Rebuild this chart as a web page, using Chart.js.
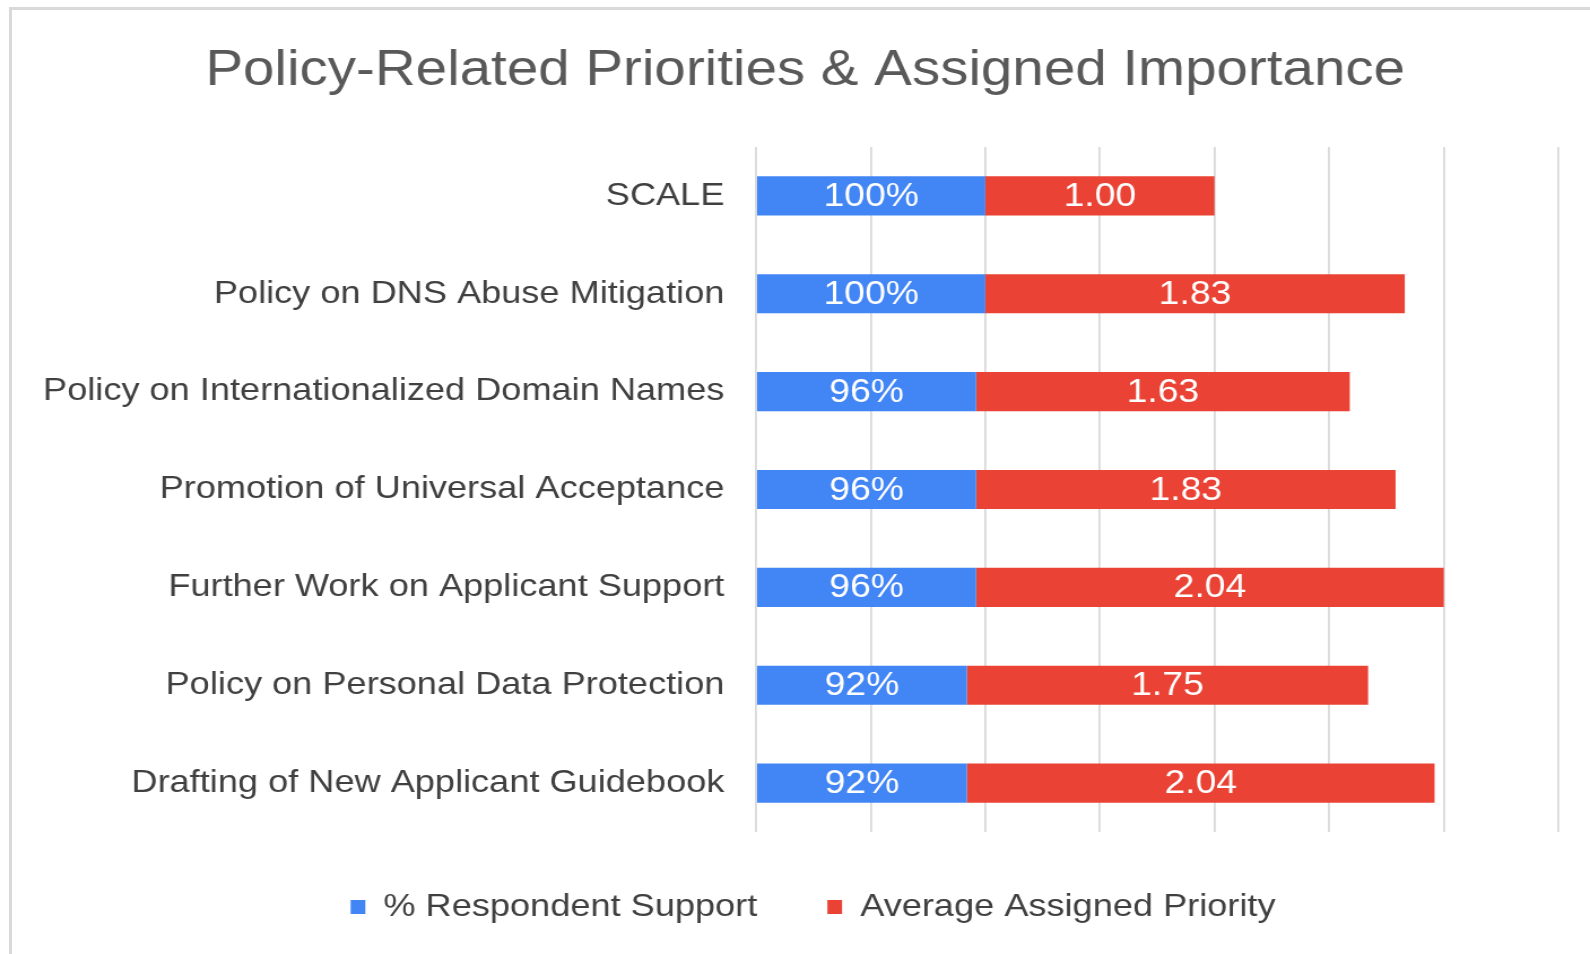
<!DOCTYPE html>
<html lang="en">
<head>
<meta charset="utf-8"/>
<title>Policy-Related Priorities &amp; Assigned Importance</title>
<script src="https://cdn.jsdelivr.net/npm/chart.js"></script>
<style>
    html, body { margin: 0; padding: 0; background: #fff; }
    .frame { position: absolute; left: 9px; top: 7px; width: 1581px; height: 947px;
             border-left: 3px solid #d9d9d9; border-top: 3px solid #d9d9d9; box-sizing: border-box; }
    canvas { position: absolute; left: 0; top: 0; }
  </style>
</head>
<body>
<div class="frame"></div>
<!-- the source picture is stretched sideways, so the canvas is drawn narrower and widened by css -->
<canvas id="policyChart" width="1407" height="954" style="width:1590px;height:954px"></canvas>
<script>
    // categories, top to bottom
    const categories = [
      'SCALE',
      'Policy on DNS Abuse Mitigation',
      'Policy on Internationalized Domain Names',
      'Promotion of Universal Acceptance',
      'Further Work on Applicant Support',
      'Policy on Personal Data Protection',
      'Drafting of New Applicant Guidebook'
    ];
    // share of respondents supporting (1 = 100%)
    const respondentSupport = [1.00, 1.00, 0.96, 0.96, 0.96, 0.92, 0.92];
    // average priority assigned
    const averagePriority = [1.00, 1.83, 1.63, 1.83, 2.04, 1.75, 2.04];
    const seriesNames = ['% Respondent Support', 'Average Assigned Priority'];

    const FONT = '"Liberation Sans", Arial, sans-serif';

    // white value labels inside each bar segment
    const barLabels = {
      id: 'barLabels',
      afterDatasetsDraw(chart) {
        const ctx = chart.ctx;
        ctx.save();
        ctx.fillStyle = '#ffffff';
        ctx.font = '33px ' + FONT;
        ctx.textAlign = 'center';
        ctx.textBaseline = 'middle';
        chart.data.datasets.forEach((ds, i) => {
          chart.getDatasetMeta(i).data.forEach((bar, j) => {
            const v = ds.data[j];
            const txt = i === 0 ? Math.round(v * 100) + '%' : v.toFixed(2);
            ctx.fillText(txt, (bar.x + bar.base) / 2, bar.y + 1);
          });
        });
        ctx.restore();
      }
    };

    // title and legend sit a bit right of centre in the original
    const nudge = {
      id: 'nudge',
      afterLayout(chart) {
        if (chart.titleBlock) { chart.titleBlock.left += 23; chart.titleBlock.right += 23; }
        if (chart.legend) {
          chart.legend.left += 30; chart.legend.right += 30;
          chart.legend.top -= 3; chart.legend.bottom -= 3;
        }
      }
    };

    new Chart(document.getElementById('policyChart'), {
      type: 'bar',
      data: {
        labels: categories,
        datasets: [
          { label: seriesNames[0], data: respondentSupport, backgroundColor: '#4285f4' },
          { label: seriesNames[1], data: averagePriority, backgroundColor: '#ea4335' }
        ]
      },
      options: {
        indexAxis: 'y',
        responsive: false,
        animation: false,
        categoryPercentage: 1,
        barPercentage: 0.4,
        layout: { padding: { left: 0, right: 28, top: 0, bottom: 18 } },
        scales: {
          x: {
            stacked: true,
            min: 0, max: 3.5,
            ticks: { display: false, stepSize: 0.5 },
            grid: { color: '#d9d9d9', lineWidth: 1.8, drawTicks: false },
            border: { display: false }
          },
          y: {
            stacked: true,
            grid: { display: false, drawTicks: false },
            border: { display: false },
            ticks: { color: '#404040', font: { family: FONT, size: 32 }, padding: 28 },
            afterFit(scale) { scale.width = 669; }
          }
        },
        plugins: {
          title: {
            display: true,
            text: 'Policy-Related Priorities & Assigned Importance',
            color: '#595959',
            font: { family: FONT, size: 50, weight: 'normal' },
            padding: { top: 41, bottom: 46 }
          },
          legend: {
            position: 'bottom',
            labels: {
              color: '#404040',
              font: { family: FONT, size: 32 },
              boxWidth: 13, boxHeight: 14,
              padding: 62
            }
          },
          tooltip: { enabled: false }
        }
      },
      plugins: [barLabels, nudge]
    });
  </script>
</body>
</html>
